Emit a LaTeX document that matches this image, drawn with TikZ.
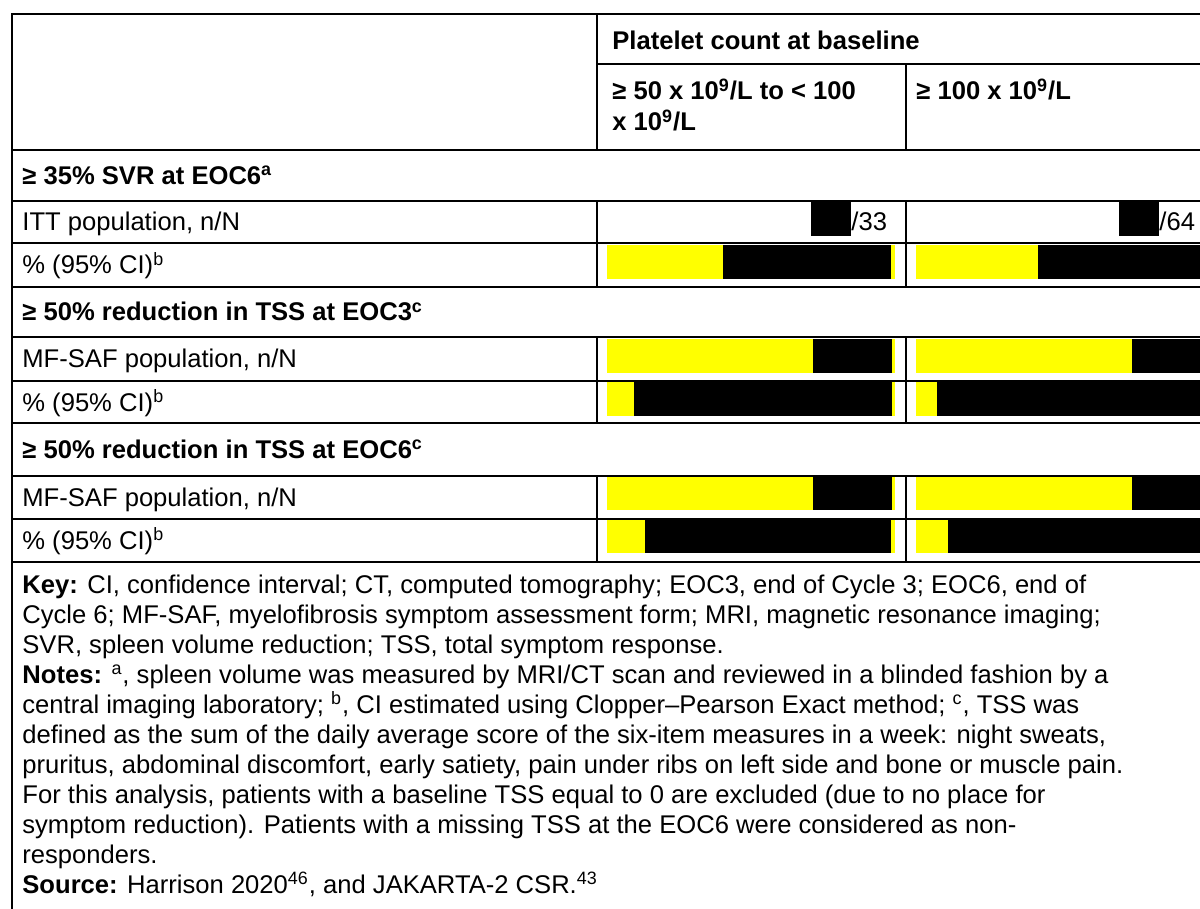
\documentclass[tikz,border=0pt]{standalone}
\usepackage{fontspec}
\setmainfont{Liberation Sans}
\definecolor{hl}{RGB}{255,255,0}
\newcommand\fsz{\fontsize{12.8pt}{15pt}\selectfont}
\tikzset{
  txt/.style={anchor=base west, inner sep=0pt, font=\fsz},
  txtr/.style={anchor=base east, inner sep=0pt, font=\fsz},
  rule/.style={line width=0.9pt, line cap=rect},
}
\begin{document}
\begin{tikzpicture}[x=0.5pt,y=-0.5pt]
\useasboundingbox (0,0) rectangle (1200,909);
\begin{scope}
\clip (0,0) rectangle (1200,909);
% ---- bars: ITT n/N ----
\fill[black] (811,202) rectangle (851,236);
\fill[black] (1119,202) rectangle (1159,236);
% ---- bars: SVR % ----
\fill[hl] (607,245) rectangle (723,279);
\fill[black] (723,245) rectangle (891,279);
\fill[hl] (891,245) rectangle (895,279);
\fill[hl] (916,245) rectangle (1038,279);
\fill[black] (1038,245) rectangle (1210,279);
% ---- bars: EOC3 n/N ----
\fill[hl] (607,339) rectangle (813,373);
\fill[black] (813,339) rectangle (892,373);
\fill[hl] (892,339) rectangle (895,373);
\fill[hl] (916,339) rectangle (1132,373);
\fill[black] (1132,339) rectangle (1210,373);
% ---- bars: EOC3 % ----
\fill[hl] (607,382) rectangle (634,416);
\fill[black] (634,382) rectangle (892,416);
\fill[hl] (892,382) rectangle (895,416);
\fill[hl] (916,382) rectangle (937,416);
\fill[black] (937,382) rectangle (1210,416);
% ---- bars: EOC6 n/N ----
\fill[hl] (607,477) rectangle (813,510);
\fill[black] (813,477) rectangle (892,510);
\fill[hl] (892,477) rectangle (895,510);
\fill[hl] (916,477) rectangle (1132,510);
\fill[black] (1132,477) rectangle (1210,510);
% ---- bars: EOC6 % ----
\fill[hl] (607,520) rectangle (645,553);
\fill[black] (645,520) rectangle (891,553);
\fill[hl] (891,520) rectangle (895,553);
\fill[hl] (916,520) rectangle (948,553);
\fill[black] (948,520) rectangle (1210,553);
% ---- rules ----
\draw[rule] (12,14) -- (1210,14);
\draw[rule] (12,14) -- (12,915);
\draw[rule] (597,64) -- (1210,64);
\foreach \yy in {150,201,243,287,337,381,423,476,519,562}
  \draw[rule] (12,\yy) -- (1210,\yy);
\draw[rule] (597,14) -- (597,150);
\draw[rule] (906,64) -- (906,150);
\foreach \ya/\yb in {201/287,337/423,476/562}{
  \draw[rule] (597,\ya) -- (597,\yb);
  \draw[rule] (906,\ya) -- (906,\yb);
}
\end{scope}
% ---- header text ----
\node[txt] (h1) at (612,50) {\bfseries Platelet count at baseline};
\node[txt] (h2) at (612,100) {\bfseries ≥ 50 x 10\textsuperscript{9}/L to < 100};
\node[txt] (h2b) at (612,131) {\bfseries x 10\textsuperscript{9}/L};
\node[txt] (h3) at (916,100) {\bfseries ≥ 100 x 10\textsuperscript{9}/L};
% ---- row labels ----
\node[txt] (s1) at (22,184.5) {\bfseries ≥ 35\% SVR at EOC6\textsuperscript{a}};
\node[txt] (r1) at (22,231) {ITT population, n/N};
\node[txt] (r2) at (22,274) {\% (95\% CI)\textsuperscript{b}};
\node[txt] (s2) at (22,321) {\bfseries ≥ 50\% reduction in TSS at EOC3\textsuperscript{c}};
\node[txt] (r3) at (22,368) {MF-SAF population, n/N};
\node[txt] (r4) at (22,411) {\% (95\% CI)\textsuperscript{b}};
\node[txt] (s3) at (22,458.5) {\bfseries ≥ 50\% reduction in TSS at EOC6\textsuperscript{c}};
\node[txt] (r5) at (22,506.5) {MF-SAF population, n/N};
\node[txt] (r6) at (22,549.5) {\% (95\% CI)\textsuperscript{b}};
% ---- values ----
\node[txt] (v1) at (851,231) {/33};
\node[txt] (v2) at (1159,231) {/64};
% ---- key ----
\node[txt] (k1) at (22,593) {\textbf{Key:} CI, confidence interval; CT, computed tomography; EOC3, end of Cycle 3; EOC6, end of};
\node[txt] (k2) at (22,623) {Cycle 6; MF-SAF, myelofibrosis symptom assessment form; MRI, magnetic resonance imaging;};
\node[txt] (k3) at (22,653) {SVR, spleen volume reduction; TSS, total symptom response.};
\node[txt] (k4) at (22,683) {\textbf{Notes:} \textsuperscript{a}, spleen volume was measured by MRI/CT scan and reviewed in a blinded fashion by a};
\node[txt] (k5) at (22,713) {central imaging laboratory; \textsuperscript{b}, CI estimated using Clopper–Pearson Exact method; \textsuperscript{c}, TSS was};
\node[txt] (k6) at (22,743) {defined as the sum of the daily average score of the six-item measures in a week: night sweats,};
\node[txt] (k7) at (22,773) {pruritus, abdominal discomfort, early satiety, pain under ribs on left side and bone or muscle pain.};
\node[txt] (k8) at (22,803) {For this analysis, patients with a baseline TSS equal to 0 are excluded (due to no place for};
\node[txt] (k9) at (22,833) {symptom reduction). Patients with a missing TSS at the EOC6 were considered as non-};
\node[txt] (k10) at (22,863) {responders.};
\node[txt] (k11) at (22,893) {\textbf{Source:} Harrison 2020\textsuperscript{46}, and JAKARTA-2 CSR.\textsuperscript{43}};
\end{tikzpicture}
\end{document}
